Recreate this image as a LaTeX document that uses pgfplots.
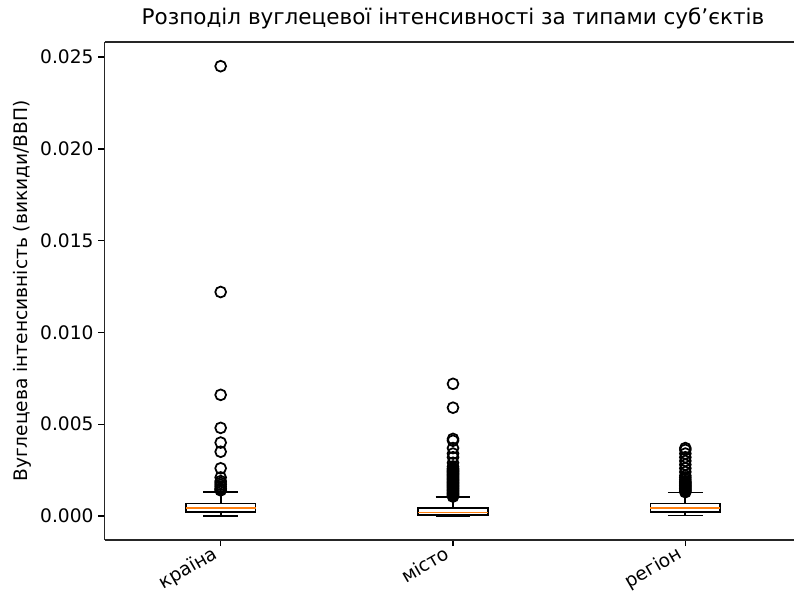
\documentclass[border=0pt]{standalone}
\usepackage{pgfplots}
\pgfplotsset{compat=1.18}
\usepgfplotslibrary{statistics}
\usepackage{fontspec}
\setmainfont{DejaVu Sans}
\definecolor{mplorange}{HTML}{FF7F0E}
\begin{document}
% values are in units of 0.001 (emissions/GDP x 1000)
\begin{tikzpicture}
\begin{axis}[
  at={(75.24pt,-30.24pt)}, anchor=north west,
  scale only axis, width=501.84pt, height=358.56pt,
  xmin=0.5, xmax=3.5, ymin=-1.307, ymax=25.817,
  axis x line*=box, axis y line*=left,
  boxplot/draw direction=y,
  xtick={1,2,3}, xticklabels={країна,місто,регіон},
  ytick={0,5,10,15,20,25},
  yticklabels={0.000,0.005,0.010,0.015,0.020,0.025},
  tick pos=left, tick align=outside,
  major tick length=4.4pt,
  every tick/.style={black, line width=1pt},
  axis line style={line width=1pt, -, black!85},
  ticklabel style={font=\fontsize{13.4pt}{16pt}\selectfont},
  xticklabel style={rotate=30, anchor=north east, inner sep=1pt, xshift=-4.3pt, yshift=5pt},
  label style={font=\fontsize{13.4pt}{16pt}\selectfont},
  ylabel={Вуглецева інтенсивність (викиди/ВВП)},
  ylabel style={at={(axis description cs:-0.1184,0.5)}, anchor=center},
  title={Розподіл вуглецевої інтенсивності за типами суб’єктів},
  title style={font=\fontsize{15.5pt}{18pt}\selectfont, at={(axis description cs:0.5,1)}, anchor=base, yshift=6.8pt},
  clip=false,
]
% країна
\addplot[black, line width=1.26pt, boxplot prepared={draw position=1, lower whisker=0.0, lower quartile=0.23, median=0.42, upper quartile=0.68, upper whisker=1.30, box extend=0.3, whisker extend=0.15, every median/.style={mplorange, line width=1.26pt}}] coordinates {};
% місто
\addplot[black, line width=1.26pt, boxplot prepared={draw position=2, lower whisker=0.0, lower quartile=0.05, median=0.19, upper quartile=0.45, upper whisker=1.03, box extend=0.3, whisker extend=0.15, every median/.style={mplorange, line width=1.26pt}}] coordinates {};
% регіон
\addplot[black, line width=1.26pt, boxplot prepared={draw position=3, lower whisker=0.03, lower quartile=0.23, median=0.42, upper quartile=0.68, upper whisker=1.28, box extend=0.3, whisker extend=0.15, every median/.style={mplorange, line width=1.26pt}}] coordinates {};
% outliers
\addplot[only marks, mark=o, mark size=3.9pt, mark options={black, line width=1.26pt}] coordinates {
(1,24.5) (1,12.2) (1,6.6) (1,4.8) (1,4.0) (1,3.5) (1,2.6)
(1,2.1) (1,1.9) (1,1.8) (1,1.7) (1,1.6) (1,1.5) (1,1.45) (1,1.4)
};
\addplot[only marks, mark=o, mark size=3.9pt, mark options={black, line width=1.26pt}] coordinates {
(2,7.2) (2,5.9) (2,4.2) (2,4.1) (2,3.7) (2,3.4) (2,3.2) (2,2.9) (2,2.7)
(2,2.6) (2,2.55) (2,2.5) (2,2.45) (2,2.4) (2,2.35) (2,2.3) (2,2.25)
(2,2.2) (2,2.15) (2,2.1) (2,2.05) (2,2.0) (2,1.95) (2,1.9) (2,1.85)
(2,1.8) (2,1.75) (2,1.7) (2,1.65) (2,1.6) (2,1.55) (2,1.5) (2,1.45)
(2,1.4) (2,1.35) (2,1.3) (2,1.25) (2,1.2) (2,1.15) (2,1.1) (2,1.06)
};
\addplot[only marks, mark=o, mark size=3.9pt, mark options={black, line width=1.26pt}] coordinates {
(3,3.7) (3,3.6) (3,3.4) (3,3.2) (3,3.0) (3,2.8) (3,2.6) (3,2.4)
(3,2.2) (3,2.1) (3,2.0) (3,1.9) (3,1.85) (3,1.8) (3,1.75) (3,1.7)
(3,1.65) (3,1.6) (3,1.55) (3,1.5) (3,1.45) (3,1.4) (3,1.35) (3,1.3)
};
\end{axis}
\pgfresetboundingbox
\useasboundingbox (0pt,0pt) rectangle (571.68pt,-426.24pt);
\end{tikzpicture}
\end{document}
